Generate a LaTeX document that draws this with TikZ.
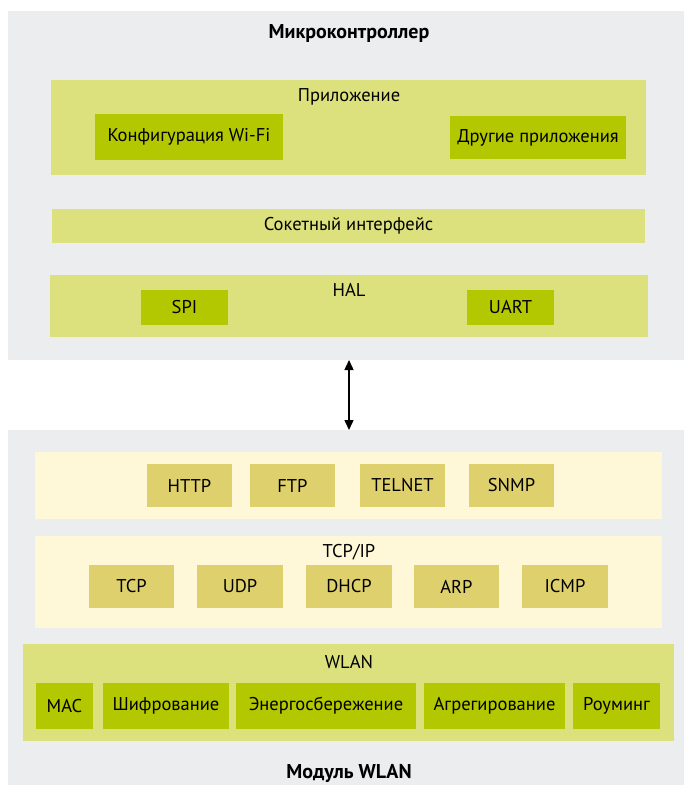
\documentclass[tikz,border=0pt]{standalone}
\usepackage{fontspec}
\setmainfont{PT Sans}
\usetikzlibrary{arrows.meta}
\definecolor{bggrey}{HTML}{ECEDEF}
\definecolor{lgreen}{HTML}{DCE17E}
\definecolor{dgreen}{HTML}{B3C800}
\definecolor{cream}{HTML}{FEF8D8}
\definecolor{tan}{HTML}{DED06C}
\tikzset{
  blk/.style={rectangle, inner sep=0pt, outer sep=0pt, font=\fontsize{18.5}{22}\selectfont},
  grey/.style={blk, fill=bggrey},
  lgr/.style={blk, fill=lgreen},
  dgr/.style={blk, fill=dgreen},
  crm/.style={blk, fill=cream},
  tanbox/.style={blk, fill=tan},
  lbl/.style={inner sep=0pt, font=\fontsize{18.5}{22}\selectfont},
  ttl/.style={inner sep=0pt, font=\fontsize{20}{24}\selectfont\bfseries},
  link/.style={line width=1.4pt, {Triangle[width=9pt,length=10pt]}-{Triangle[width=9pt,length=10pt]}}
}
\newcommand\blk[7]{\node[#2, minimum width={(#5)-(#3)}, minimum height={(#6)-(#4)}] (#1) at ({((#3)+(#5))/2},{((#4)+(#6))/2}) {#7};}
\begin{document}
\begin{tikzpicture}[x=1pt,y=-1pt]
\useasboundingbox (0,0) rectangle (684,785);
% Microcontroller
\blk{mcu}{grey}{8}{11}{684}{360}{}
\node[ttl] (mcut) at (349,33) {Микроконтроллер};
\blk{app}{lgr}{51}{80}{646}{175}{}
\node[lbl] (appt) at (349,97) {Приложение};
\blk{wifi}{dgr}{95}{114}{283}{160}{Конфигурация Wi-Fi}
\blk{other}{dgr}{450}{116}{626}{159}{Другие приложения}
\blk{sock}{lgr}{52}{209}{645}{243}{Сокетный интерфейс}
\blk{hal}{lgr}{50}{275}{648}{337}{}
\node[lbl] (halt) at (349,290) {HAL};
\blk{spi}{dgr}{141}{290}{228}{325}{SPI}
\blk{uart}{dgr}{467}{290}{554}{325}{UART}
% WLAN module
\blk{mod}{grey}{8}{430}{684}{785}{}
\blk{proto}{crm}{35}{452}{662}{519}{}
\blk{http}{tanbox}{147}{464}{232}{507}{HTTP}
\blk{ftp}{tanbox}{250}{464}{335}{507}{FTP}
\blk{telnet}{tanbox}{360}{464}{445}{507}{TELNET}
\blk{snmp}{tanbox}{469}{464}{554}{507}{SNMP}
\blk{tcpip}{crm}{35}{536}{662}{628}{}
\node[lbl] (tcpipt) at (349,552) {TCP/IP};
\blk{tcp}{tanbox}{89}{565}{174}{608}{TCP}
\blk{udp}{tanbox}{197}{565}{283}{608}{UDP}
\blk{dhcp}{tanbox}{306}{565}{392}{608}{DHCP}
\blk{arp}{tanbox}{414}{565}{499}{608}{ARP}
\blk{icmp}{tanbox}{522}{565}{608}{608}{ICMP}
\blk{wlan}{lgr}{23}{644}{674}{741}{}
\node[lbl] (wlant) at (349,662) {WLAN};
\blk{mac}{dgr}{36}{683}{93}{729}{MAC}
\blk{enc}{dgr}{103}{683}{229}{729}{Шифрование}
\blk{pwr}{dgr}{236}{683}{416}{729}{Энергосбережение}
\blk{agg}{dgr}{424}{683}{565}{729}{Агрегирование}
\blk{roam}{dgr}{573}{683}{660}{729}{Роуминг}
\node[ttl] (modt) at (349,773) {Модуль WLAN};
% link
\draw[link] (mcu.south -| halt) -- (mod.north -| halt);
\end{tikzpicture}
\end{document}
